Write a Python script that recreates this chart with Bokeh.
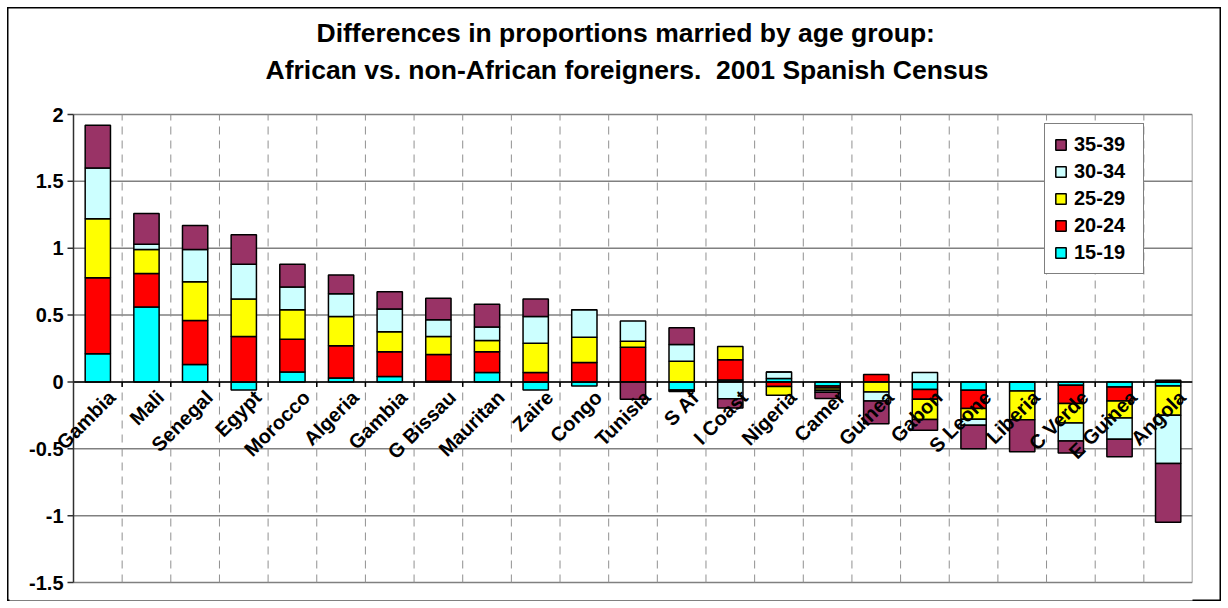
import numpy as np
from bokeh.plotting import figure
from bokeh.models import ColumnDataSource, Legend, LegendItem, Title, Range1d
from bokeh.core.properties import value
from bokeh.embed import file_html
from bokeh.resources import INLINE

countries = ["Gambia", "Mali", "Senegal", "Egypt", "Morocco", "Algeria", "Gambia",
             "G Bissau", "Mauritan", "Zaire", "Congo", "Tunisia", "S Af", "I Coast",
             "Nigeria", "Camer", "Guinea", "Gabon", "S Leone", "Liberia", "C Verde",
             "E Guinea", "Angola"]

age_groups = ["15-19", "20-24", "25-29", "30-34", "35-39"]

v15_19 = [0.21, 0.56, 0.13, -0.06, 0.075, 0.03, 0.04, 0.005, 0.07, -0.06, -0.03, 0.0,
          -0.06, 0.015, 0.025, -0.03, 0.0, -0.057, -0.062, -0.067, -0.025, -0.037, -0.03]
v20_24 = [0.57, 0.25, 0.33, 0.34, 0.245, 0.24, 0.185, 0.20, 0.155, 0.07, 0.145, 0.26,
          -0.012, 0.15, -0.035, -0.016, 0.055, -0.072, -0.137, 0.0, -0.137, -0.105, 0.012]
v25_29 = [0.44, 0.18, 0.29, 0.28, 0.22, 0.22, 0.15, 0.135, 0.085, 0.22, 0.19, 0.045,
          0.155, 0.10, -0.065, -0.016, -0.075, -0.152, -0.08, -0.215, -0.145, -0.127, -0.22]
v30_34 = [0.38, 0.04, 0.24, 0.26, 0.17, 0.17, 0.17, 0.125, 0.10, 0.20, 0.205, 0.15,
          0.125, -0.125, 0.05, -0.016, -0.067, 0.07, -0.045, 0.0, -0.135, -0.16, -0.36]
v35_39 = [0.32, 0.23, 0.18, 0.22, 0.17, 0.14, 0.13, 0.16, 0.17, 0.13, 0.0, -0.13,
          0.125, -0.07, 0.0, -0.045, -0.17, -0.08, -0.175, -0.24, -0.09, -0.13, -0.44]

series = [v15_19, v20_24, v25_29, v30_34, v35_39]
colors = ["#00FFFF", "#FF0000", "#FFFF00", "#CCFFFF", "#993366"]

y_ticks = [-1.5, -1, -0.5, 0, 0.5, 1, 1.5, 2]
y_tick_labels = ["-1.5", "-1", "-0.5", "0", "0.5", "1", "1.5", "2"]

title_lines = ["Differences in proportions married by age group:",
               "African vs. non-African foreigners.\u00a0 2001 Spanish Census"]

FONT = "Liberation Sans"
n = len(countries)
xs = np.arange(n)

# plot area geometry (pixels) -> data ranges that leave room for labels in the frame
PX_X = 1119 / n            # pixels per category
PX_Y = 468 / 3.5           # pixels per y unit
X0, X1 = -0.5, n - 0.5
Y0, Y1 = y_ticks[0], y_ticks[-1]
pad_left, pad_bottom, pad_top = 64, 18, 14

p = figure(width=1228, height=608, output_backend="svg", toolbar_location=None,
           x_range=Range1d(X0 - pad_left / PX_X, X1),
           y_range=Range1d(Y0 - pad_bottom / PX_Y, Y1 + pad_top / PX_Y),
           min_border_left=9, min_border_right=36, min_border_top=100,
           min_border_bottom=8,
           styles={"background-color": "white",
                   "box-shadow": "inset 0 0 0 7px white, inset 0 0 0 8.5px black"})
p.background_fill_color = "white"
p.border_fill_color = None
p.outline_line_color = None
p.xaxis.visible = False
p.yaxis.visible = False
p.xgrid.visible = False
p.ygrid.visible = False

# titles (spacer first = closest to the plot)
t0 = Title(text=" ", text_font_size="1px", standoff=10)
t2 = Title(text=title_lines[1], align="left", offset=256, text_font=FONT,
           text_font_size="26.5px", text_font_style="bold", text_color="black",
           standoff=5)
t1 = Title(text=title_lines[0], align="left", offset=307, text_font=FONT,
           text_font_size="26.5px", text_font_style="bold", text_color="black",
           standoff=5)
p.add_layout(t0, "above")
p.add_layout(t2, "above")
p.add_layout(t1, "above")

# horizontal grid lines
bounds = list(np.arange(n - 1) + 0.5)
p.segment(x0=X0, x1=X1, y0=y_ticks, y1=y_ticks, line_color="#808080", line_width=1.5)
# vertical dashed category separators
p.segment(x0=bounds, x1=bounds, y0=Y0, y1=Y1, line_color="#909090", line_width=1,
          line_dash="8 6")
# right frame edge
p.segment(x0=[X1], x1=[X1], y0=[Y0], y1=[Y1], line_color="#808080", line_width=1.5)

# stacked bars
pos = np.zeros(n)
neg = np.zeros(n)
renderers = []
for vals, col, name in zip(series, colors, age_groups):
    v = np.array(vals, dtype=float)
    bottom = np.where(v >= 0, pos, neg + v)
    top = np.where(v >= 0, pos + v, neg)
    pos = np.where(v >= 0, pos + v, pos)
    neg = np.where(v < 0, neg + v, neg)
    src = ColumnDataSource(dict(x=xs, bottom=bottom, top=top))
    r = p.vbar(x="x", bottom="bottom", top="top", width=0.52, source=src,
               fill_color=col, line_color="black", line_width=1.5)
    renderers.append((name, r))

# category axis at zero with tick marks at boundaries
p.segment(x0=[X0], x1=[X1], y0=[0], y1=[0], line_color="black", line_width=1.5)
p.segment(x0=bounds, x1=bounds, y0=0, y1=-5 / PX_Y, line_color="black", line_width=1.5)

# value axis
p.segment(x0=[X0], x1=[X0], y0=[Y0], y1=[Y1], line_color="#303030", line_width=1.5)
p.segment(x0=X0 - 6 / PX_X, x1=X0, y0=y_ticks, y1=y_ticks, line_color="#303030",
          line_width=1.5)
ysrc = ColumnDataSource(dict(x=[X0] * len(y_ticks), y=y_ticks, text=y_tick_labels))
p.text(x="x", y="y", text="text", source=ysrc, x_offset=-10, text_align="right",
       text_baseline="middle", text_font=value(FONT), text_font_style="bold",
       text_font_size="20px", text_color="black")

# category labels
lab_src = ColumnDataSource(dict(x=xs, y=np.zeros(n), text=countries))
p.text(x="x", y="y", text="text", source=lab_src, angle=np.pi / 4,
       text_align="right", text_baseline="middle", x_offset=14, y_offset=12,
       text_font=value(FONT), text_font_style="bold", text_font_size="20px",
       text_color="black")

# legend
items = [LegendItem(label=name, renderers=[r]) for name, r in reversed(renderers)]
legend = Legend(items=items, location=(1035, 326), orientation="vertical",
                glyph_width=13, glyph_height=13, label_height=20, label_width=60,
                spacing=4, padding=9, margin=0, label_standoff=7,
                label_text_font=FONT, label_text_font_style="bold",
                label_text_font_size="20px", label_text_color="black",
                border_line_color="black", border_line_width=1,
                background_fill_color="white", background_fill_alpha=1)
p.add_layout(legend, "center")

open("out.html", "w").write(file_html(p, INLINE))
